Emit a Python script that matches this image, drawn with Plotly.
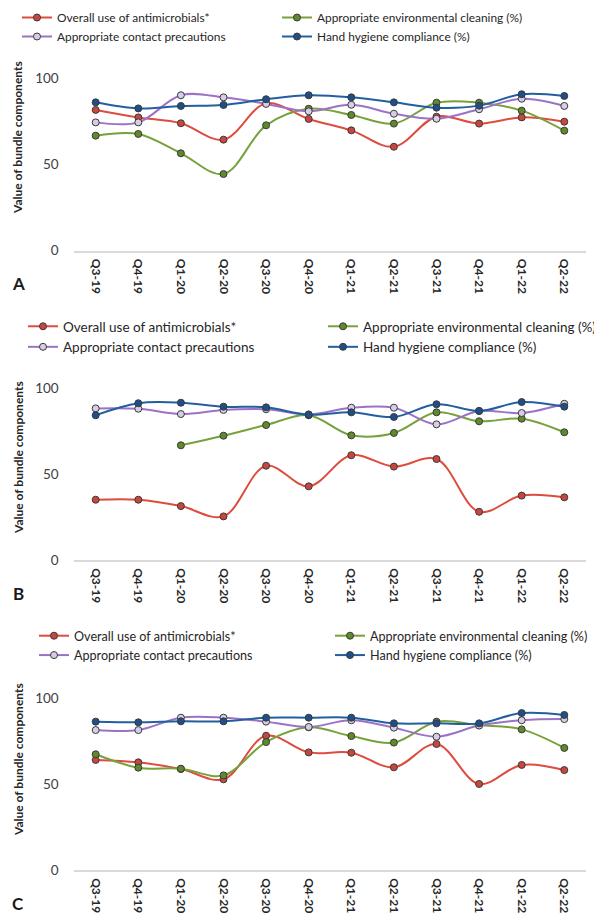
import plotly.graph_objects as go

quarters = ["Q3-19", "Q4-19", "Q1-20", "Q2-20", "Q3-20", "Q4-20",
            "Q1-21", "Q2-21", "Q3-21", "Q4-21", "Q1-22", "Q2-22"]

series_names = ["Overall use of antimicrobials*",
                "Appropriate environmental cleaning (%)",
                "Appropriate contact precautions",
                "Hand hygiene compliance (%)"]

# Panel A
a_antimicrobials = [81.5, 77.2, 73.8, 64.3, 85.3, 76.3, 69.7, 60.2, 77.6, 73.6, 77.2, 74.7]
a_cleaning = [66.6, 67.6, 56.4, 44.4, 72.6, 82.2, 78.6, 73.6, 85.7, 85.7, 81.1, 69.5]
a_contact = [74.3, 74.3, 90.0, 88.8, 85.0, 80.7, 84.5, 79.3, 76.4, 81.9, 88.0, 83.8]
a_hand = [85.9, 82.4, 83.8, 84.4, 87.7, 90.0, 88.8, 85.9, 82.8, 84.0, 90.6, 89.6]

# Panel B
b_antimicrobials = [35.1, 35.1, 31.4, 25.4, 54.9, 42.9, 61.0, 54.4, 58.8, 28.1, 37.5, 36.5]
b_cleaning = [None, None, 66.8, 72.4, 78.6, 84.3, 72.6, 74.0, 86.0, 80.8, 82.3, 74.4]
b_contact = [88.3, 88.1, 85.0, 87.4, 87.8, 84.8, 88.7, 88.7, 79.0, 86.8, 85.6, 91.0]
b_hand = [84.3, 91.3, 91.6, 89.3, 88.9, 84.6, 86.0, 83.3, 90.7, 86.8, 92.0, 89.3]

# Panel C
c_antimicrobials = [64.1, 62.7, 58.8, 52.8, 78.2, 68.5, 68.3, 59.8, 73.4, 50.1, 61.2, 58.2]
c_cleaning = [67.4, 59.6, 59.0, 55.1, 74.5, 83.1, 78.0, 74.2, 86.4, 84.4, 81.9, 71.1]
c_contact = [81.5, 81.5, 88.7, 88.7, 86.4, 83.3, 87.2, 82.9, 77.6, 84.1, 87.2, 87.9]
c_hand = [86.4, 86.0, 86.6, 86.6, 88.7, 88.7, 88.7, 85.4, 85.4, 85.4, 91.4, 90.3]

y_ticks = [0, 50, 100]
panel_letters = ["A", "B", "C"]
y_title = "Value of bundle components"

line_colors = ["#de4b3f", "#77a13b", "#9c72c6", "#225f9f"]
marker_fills = ["#c9463d", "#5f8a2c", "#d8cde6", "#1e4f8a"]

# legend column of each series: antimicrobials/contact on the left,
# cleaning/hand hygiene on the right
legend_column = [0, 1, 0, 1]
legend_rank = [0, 0, 1, 1]

W, H = 594, 914
FONT = "Lato"


def py(px):
    return 1 - px / H


panels = [
    dict(data=[a_antimicrobials, a_cleaning, a_contact, a_hand],
         zero=250.7, hundred=78.0, title_c=138, letter_y=283,
         legend_top=3, legend_x=(17, 277), fsize=11.9),
    dict(data=[b_antimicrobials, b_cleaning, b_contact, b_hand],
         zero=560.0, hundred=388.3, title_c=458, letter_y=593,
         legend_top=311, legend_x=(23, 323), fsize=13.5),
    dict(data=[c_antimicrobials, c_cleaning, c_contact, c_hand],
         zero=870.0, hundred=698.3, title_c=760, letter_y=903,
         legend_top=621, legend_x=(34, 330), fsize=12.6),
]

fig = go.Figure()
annotations = []
layout_parts = {}
legend_no = 0
for i, p in enumerate(panels):
    sfx = "" if i == 0 else str(i + 1)
    legend_ids = []
    for col in range(2):
        legend_no += 1
        lid = "legend" if legend_no == 1 else "legend%d" % legend_no
        legend_ids.append(lid)
        layout_parts[lid] = dict(
            x=p["legend_x"][col] / W, y=py(p["legend_top"]),
            xanchor="left", yanchor="top", orientation="v",
            font=dict(family=FONT, size=p["fsize"], color="#262626"),
            bgcolor="rgba(0,0,0,0)", tracegroupgap=0, itemwidth=30,
            traceorder="normal",
        )
    for k in range(4):
        fig.add_trace(go.Scatter(
            x=quarters, y=p["data"][k], name=series_names[k],
            mode="lines+markers",
            line=dict(color=line_colors[k], width=2, shape="spline", smoothing=1),
            marker=dict(size=7, color=marker_fills[k],
                        line=dict(color="#3a3a3a", width=1)),
            xaxis="x" + sfx, yaxis="y" + sfx,
            legend=legend_ids[legend_column[k]], legendrank=legend_rank[k] + 1,
            cliponaxis=False, connectgaps=False,
        ))
    layout_parts["xaxis" + sfx] = dict(
        domain=[74.4 / W, 585.6 / W], range=[-0.5, 11.5],
        anchor="y" + sfx, type="category",
        showgrid=False, zeroline=False,
        showline=True, linecolor="#d9d9d9", linewidth=1.5,
        tickangle=90, ticks="outside", ticklen=4,
        tickcolor="rgba(0,0,0,0)",
        tickfont=dict(family=FONT, size=12, color="#262626", weight="bold"),
    )
    layout_parts["yaxis" + sfx] = dict(
        domain=[py(p["zero"]), py(p["hundred"])], range=[0, 100],
        anchor="x" + sfx, showgrid=False, zeroline=False, showline=False,
        tickvals=y_ticks, ticks="outside", ticklen=12,
        tickcolor="rgba(0,0,0,0)",
        tickfont=dict(family=FONT, size=13.5, color="#404040"),
    )
    annotations.append(dict(
        text=y_title, x=18 / W, y=py(p["title_c"]), xref="paper", yref="paper",
        xanchor="center", yanchor="middle", textangle=-90, showarrow=False,
        font=dict(family=FONT, size=12, color="#262626", weight="bold"),
    ))
    annotations.append(dict(
        text=panel_letters[i], x=18 / W, y=py(p["letter_y"]), xref="paper",
        yref="paper", xanchor="center", yanchor="middle", showarrow=False,
        font=dict(family=FONT, size=17, color="#1a1a1a", weight="bold"),
    ))

fig.update_layout(layout_parts)
fig.update_layout(
    width=W, height=H,
    margin=dict(l=0, r=0, t=0, b=0, autoexpand=False),
    paper_bgcolor="white", plot_bgcolor="white",
    annotations=annotations, showlegend=True,
)

fig.write_html("out.html")
